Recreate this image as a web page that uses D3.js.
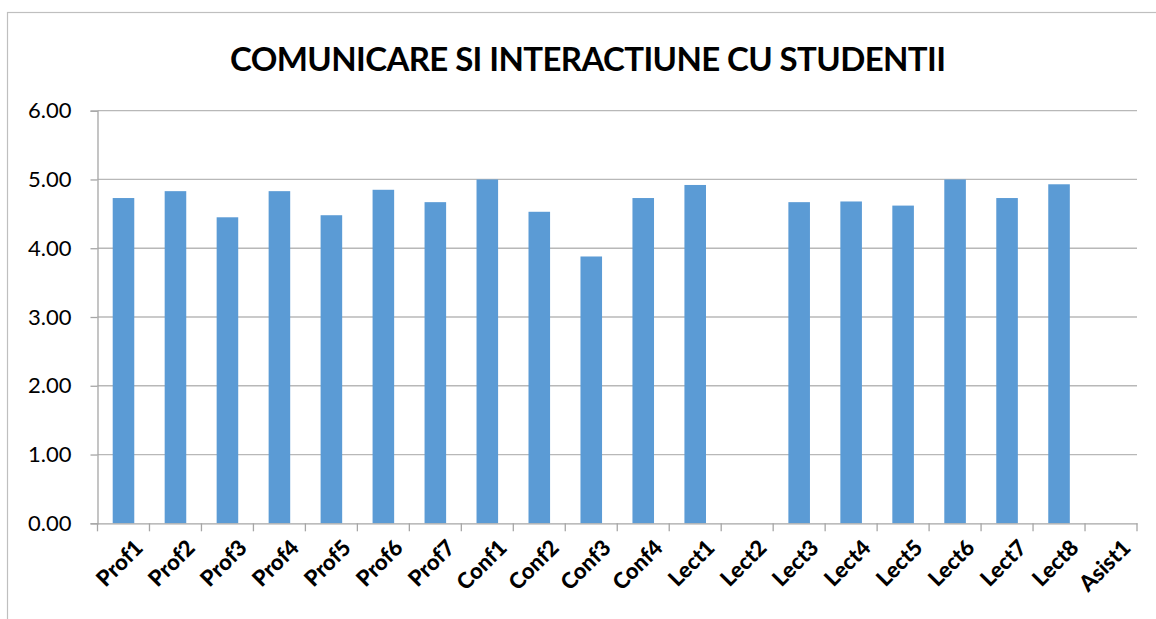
<!DOCTYPE html>
<html><head><meta charset="utf-8">
<script src="https://cdn.jsdelivr.net/npm/d3@7"></script>
<style>body{margin:0;background:#fff;} text{font-family:Lato, "Open Sans", sans-serif;}</style>
</head><body><svg id="c" width="1156" height="619"></svg>
<script>
const categories = ["Prof1","Prof2","Prof3","Prof4","Prof5","Prof6","Prof7","Conf1","Conf2","Conf3","Conf4","Lect1","Lect2","Lect3","Lect4","Lect5","Lect6","Lect7","Lect8","Asist1"];
const values = [4.73,4.83,4.45,4.83,4.48,4.85,4.67,5.00,4.53,3.88,4.73,4.92,null,4.67,4.68,4.62,5.00,4.73,4.93,null];
const yTicks = [0,1,2,3,4,5,6];
const title = "COMUNICARE SI INTERACTIUNE CU STUDENTII";

const svg = d3.select("#c");
const m = {left:97.5, right:1137, top:110.7, bottom:523.3};
svg.append("rect").attr("x",7.5).attr("y",12.5).attr("width",1160).attr("height",640)
  .attr("fill","none").attr("stroke","#bfbfbf").attr("stroke-width",1.2);

const x = d3.scaleBand().domain(categories).range([m.left,m.right]).paddingInner(0.585).paddingOuter(0.2925);
const xb = d3.scaleBand().domain(categories).range([m.left,m.right]);
const y = d3.scaleLinear().domain([0,6]).range([m.bottom,m.top]);

// gridlines
svg.append("g").selectAll("line").data(yTicks.filter(d=>d>0)).join("line")
  .attr("x1",m.left).attr("x2",m.right).attr("y1",d=>y(d)).attr("y2",d=>y(d))
  .attr("stroke","#b8b8b8").attr("stroke-width",1.3);

// y axis
const ya = svg.append("g").attr("transform",`translate(${m.left},0)`)
  .call(d3.axisLeft(y).tickValues(yTicks).tickFormat(d3.format(".2f")).tickSize(7).tickPadding(19));
ya.select(".domain").attr("stroke","#a6a6a6").attr("stroke-width",1.3);
ya.selectAll(".tick line").attr("stroke","#a6a6a6").attr("stroke-width",1.3);
ya.selectAll("text").attr("font-size",22).attr("fill","#000").attr("font-family","Lato");

// bars
svg.append("g").selectAll("rect").data(categories.map((c,i)=>({c,v:values[i]})).filter(d=>d.v!=null)).join("rect")
  .attr("x",d=>x(d.c)).attr("width",x.bandwidth())
  .attr("y",d=>y(d.v)).attr("height",d=>y(0)-y(d.v)).attr("fill","#5b9bd5");

// x axis
const xa = svg.append("g").attr("transform",`translate(0,${m.bottom})`)
  .call(d3.axisBottom(xb).tickSize(0).tickFormat(""));
xa.select(".domain").attr("stroke","#a6a6a6").attr("stroke-width",1.3);
xa.append("g").selectAll("line").data(d3.range(categories.length+1)).join("line")
  .attr("x1",i=>m.left+i*xb.step()).attr("x2",i=>m.left+i*xb.step())
  .attr("y1",0).attr("y2",8).attr("stroke","#a6a6a6").attr("stroke-width",1.3);
svg.append("g").selectAll("text").data(categories).join("text")
  .attr("transform",d=>`translate(${xb(d)+xb.bandwidth()/2+10},${m.bottom+15}) rotate(-45)`)
  .attr("text-anchor","end").attr("dy","0.7em")
  .attr("font-size",22).attr("font-weight","900").attr("fill","#000").text(d=>d);

svg.append("text").attr("x",588).attr("y",71).attr("text-anchor","middle")
  .attr("font-size",33).attr("font-weight","bold").attr("fill","#000").attr("textLength",716).text(title);
</script></body></html>
